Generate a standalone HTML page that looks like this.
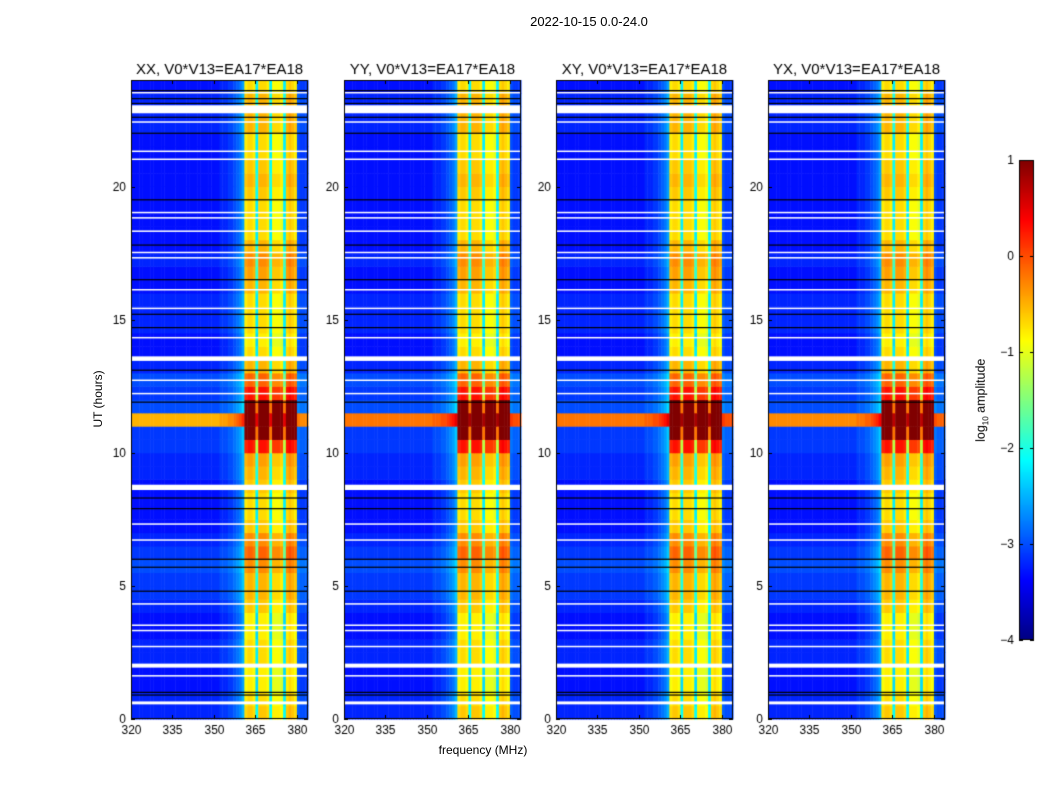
<!DOCTYPE html>
<html><head><meta charset="utf-8"><style>
html,body{margin:0;padding:0;background:#fff;}
body{width:1050px;height:800px;position:relative;overflow:hidden;font-family:"Liberation Sans","DejaVu Sans",sans-serif;}
canvas{position:absolute;left:0;top:0;}
.t{position:absolute;white-space:nowrap;color:#000;}
</style></head><body>
<canvas id="c" width="1050" height="800"></canvas>
<div class="t" style="left:489px;top:14px;width:200px;text-align:center;font-size:13px;">2022-10-15 0.0-24.0</div>
<div class="t" style="left:400px;top:743px;width:166px;text-align:center;font-size:12px;">frequency (MHz)</div>
<div class="t" style="left:48px;top:392px;width:100px;text-align:center;font-size:12px;transform:rotate(-90deg);">UT (hours)</div>
<div class="t" style="left:922px;top:392px;width:120px;text-align:center;font-size:12.5px;transform:rotate(-90deg);">log<sub style="font-size:8px">10</sub> amplitude</div>
<script>
// ---- data ----
const panelTitles = ["XX, V0*V13=EA17*EA18","YY, V0*V13=EA17*EA18","XY, V0*V13=EA17*EA18","YX, V0*V13=EA17*EA18"];
const freqTicks = [320,335,350,365,380];
const timeTicks = [0,5,10,15,20];
const cbTicks = [1,0,-1,-2,-3,-4];
// log10 amplitude per 1 MHz channel, 320..383 MHz
const chanLevel = [-3.3,-3.3,-3.3,-3.3,-3.3,-3.3,-3.3,-3.3,-3.3,-3.3,
 -3.3,-3.3,-3.3,-3.3,-3.3,-3.3,-3.3,-3.3,-3.3,-3.3,
 -3.3,-3.3,-3.3,-3.3,-3.3,-3.3,-3.3,-3.3,-3.3,-3.3,
 -3.3,-3.3,-3.2,-3.2,-3.2,-3.1,-3.1,-3.0,-2.9,-2.8,
 -2.6,-0.9,-0.8,-0.8,-0.9,-2.3,-0.8,-0.8,-0.8,-0.9,
 -2.3,-1.0,-1.0,-1.0,-1.1,-2.3,-0.8,-0.7,-0.8,-0.9,
 -3.0,-3.1,-3.1,-3.1];
const bandStart = 41, bandEnd = 59;
// background per half-hour row offset, 0..24 h
const rowOffset = [0.1,0.1,0.0,0.0,0.1,0.1,0.0,0.0,0.1,0.2,
 0.2,0.3,0.2,0.1,0.0,0.0,0.0,0.0,0.1,0.1,
 0.2,0.2,2.8,0.3,0.2,0.3,0.1,0.0,0.0,0.1,
 0.1,0.1,0.0,0.0,0.1,0.0,0.0,0.0,0.0,0.0,
 0.0,0.0,0.0,0.0,0.1,0.1,0.1,0.0];
// extra offset inside the 360-380 MHz band per half-hour row
const bandRowOffset = [0.1,0.0,0.0,0.0,0.0,0.0,0.0,0.0,0.1,0.1,
 0.1,0.2,0.5,0.4,0.2,0.1,0.1,0.2,0.2,0.3,
 0.9,1.9,0.0,1.8,0.9,0.4,0.2,0.1,0.0,0.0,
 0.0,0.0,0.3,0.4,0.4,0.3,0.1,0.1,0.1,0.2,
 0.3,0.2,0.1,0.1,0.2,0.2,0.2,0.1];
const panelBoost = [0.0,0.3,0.3,0.2];
const whiteGaps = [[22.75,23.05],[13.45,13.62],[8.6,8.8],[1.93,2.08],[0.55,0.66],[22.4,22.45],[21.3,21.35],[21.0,21.05],[19.0,19.05],[18.3,18.35],[17.5,17.55],[17.3,17.35],[16.1,16.15],[15.4,15.45],[14.3,14.35],[12.7,12.75],[7.3,7.35],[6.7,6.75],[3.5,3.55],[3.3,3.35],[1.6,1.65],[23.5,23.55],[18.8,18.85],[12.2,12.25],[4.3,4.35],[2.7,2.75]];
const blackLines = [23.6,23.3,23.12,22.0,17.8,15.2,14.7,13.1,11.9,8.3,7.9,6.0,4.8,1.0,0.9,22.6,19.5,16.5,5.7];
// ---- layout ----
const panelX = [131,344,556,768], PW=177, PT=80, PB=719;
const F0=320, F1=384, T0=0, T1=24;
const cv=document.getElementById('c'), g=cv.getContext('2d');
function jet(v){
  let t=(v+4)/5; t=Math.max(0,Math.min(1,t));
  const f=(x)=>Math.max(0,Math.min(1,x));
  const r=f(1.5-Math.abs(4*t-3)), gg=f(1.5-Math.abs(4*t-2)), b=f(1.5-Math.abs(4*t-1));
  return `rgb(${Math.round(r*255)},${Math.round(gg*255)},${Math.round(b*255)})`;
}
function xs(p,f){return panelX[p]+(f-F0)/(F1-F0)*PW;}
function ys(h){return PB-(h-T0)/(T1-T0)*(PB-PT);}
g.font='12px "Liberation Sans",sans-serif';
for(let p=0;p<4;p++){
  for(let r=0;r<rowOffset.length;r++){
    const h0=r*0.5,h1=h0+0.5;
    for(let c=0;c<chanLevel.length;c++){
      let v=chanLevel[c]+rowOffset[r]+(rowOffset[r]>2?panelBoost[p]:0);
      if(c>=bandStart&&c<=bandEnd) v+=bandRowOffset[r];
      g.fillStyle=jet(v);
      const xa=xs(p,F0+c), xb=xs(p,F0+c+1);
      g.fillRect(xa,ys(h1),xb-xa+0.5,ys(h0)-ys(h1)+0.5);
    }
  }
  g.fillStyle='#fff';
  whiteGaps.forEach(w=>{const ya=ys(w[1]),yb=ys(w[0]);g.fillRect(panelX[p],ya,PW,Math.max(1.5,yb-ya));});
  g.fillStyle='#000';
  blackLines.forEach(h=>{g.fillRect(panelX[p],ys(h)-0.6,PW,1.2);});
  g.strokeStyle='#000';g.lineWidth=1;
  g.strokeRect(panelX[p]+0.5,PT+0.5,PW-1,PB-PT-1);
  g.fillStyle='#000';g.textAlign='center';g.textBaseline='top';
  freqTicks.forEach(f=>{const x=Math.round(xs(p,f))+0.5;g.beginPath();g.moveTo(x,PB);g.lineTo(x,PB-4);g.moveTo(x,PT);g.lineTo(x,PT+4);g.stroke();g.fillText(String(f),x,PB+6);});
  g.textAlign='right';g.textBaseline='middle';
  timeTicks.forEach(h=>{const y=Math.round(ys(h))+0.5;g.beginPath();g.moveTo(panelX[p],y);g.lineTo(panelX[p]+4,y);g.moveTo(panelX[p]+PW,y);g.lineTo(panelX[p]+PW-4,y);g.stroke();g.fillText(String(h),panelX[p]-5,y);});
  g.font='15px "Liberation Sans",sans-serif';g.textAlign='center';g.textBaseline='alphabetic';
  g.fillText(panelTitles[p],panelX[p]+PW/2,74);
  g.font='12px "Liberation Sans",sans-serif';
}
// colorbar
const CX=1019,CW=15,CT=160,CB=640;
for(let y=CT;y<CB;y++){g.fillStyle=jet(1-(y-CT)/(CB-CT)*5);g.fillRect(CX,y,CW,1);}
g.strokeStyle='#000';g.strokeRect(CX+0.5,CT+0.5,CW-1,CB-CT-1);
g.textAlign='right';g.textBaseline='middle';g.fillStyle='#000';
cbTicks.forEach(v=>{const y=Math.round(CT+(1-v)/5*(CB-CT))+0.5;g.beginPath();g.moveTo(CX,y);g.lineTo(CX+4,y);g.moveTo(CX+CW,y);g.lineTo(CX+CW-4,y);g.stroke();g.fillText((v<0?'\u2212':'')+Math.abs(v),CX-5,y);});
</script>
</body></html>
